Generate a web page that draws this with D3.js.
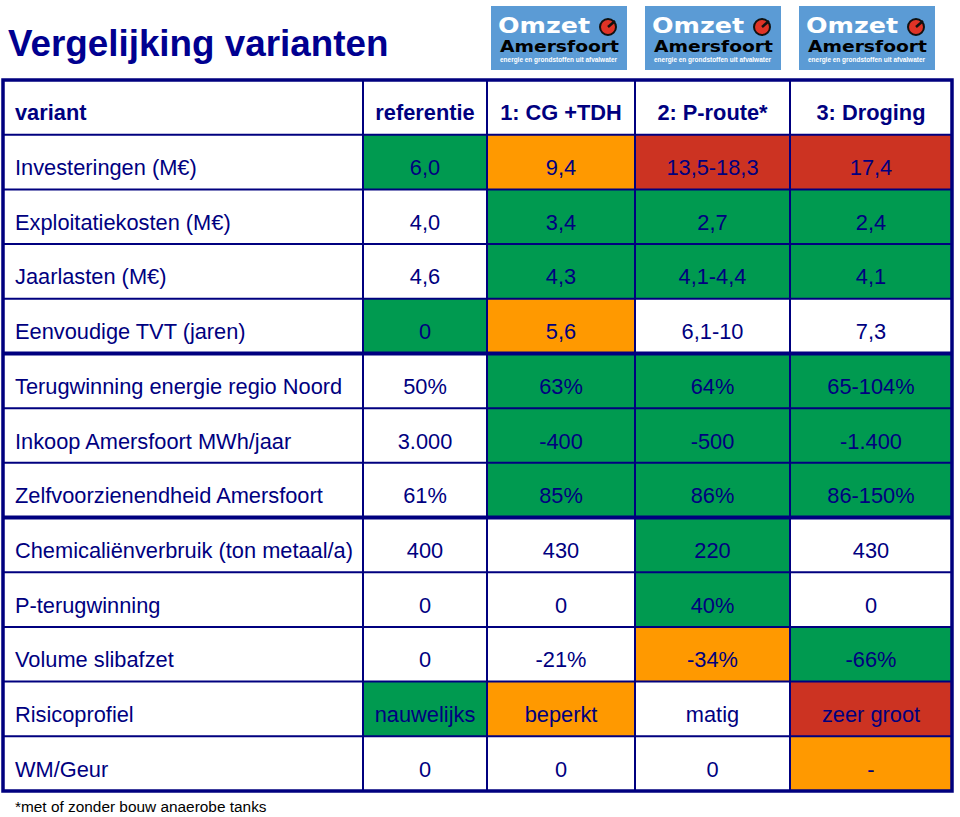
<!DOCTYPE html>
<html>
<head>
<meta charset="utf-8">
<script src="https://cdn.jsdelivr.net/npm/d3@7"></script>
<style>
    body { margin: 0; background: #fff; }
    svg { display: block; font-family: "Liberation Sans", Arial, sans-serif; }
</style>
</head>
<body>
<div id="chart"></div>
<script>
const title = "Vergelijking varianten";
const footnote = "*met of zonder bouw anaerobe tanks";
const headerLabel = "variant";
const columns = ["referentie", "1: CG +TDH", "2: P-route*", "3: Droging"];
const rowLabels = [
    "Investeringen (M€)",
    "Exploitatiekosten (M€)",
    "Jaarlasten (M€)",
    "Eenvoudige TVT (jaren)",
    "Terugwinning energie regio Noord",
    "Inkoop Amersfoort MWh/jaar",
    "Zelfvoorzienendheid Amersfoort",
    "Chemicaliënverbruik (ton metaal/a)",
    "P-terugwinning",
    "Volume slibafzet",
    "Risicoprofiel",
    "WM/Geur"
];
const values = [
    ["6,0", "9,4", "13,5-18,3", "17,4"],
    ["4,0", "3,4", "2,7", "2,4"],
    ["4,6", "4,3", "4,1-4,4", "4,1"],
    ["0", "5,6", "6,1-10", "7,3"],
    ["50%", "63%", "64%", "65-104%"],
    ["3.000", "-400", "-500", "-1.400"],
    ["61%", "85%", "86%", "86-150%"],
    ["400", "430", "220", "430"],
    ["0", "0", "40%", "0"],
    ["0", "-21%", "-34%", "-66%"],
    ["nauwelijks", "beperkt", "matig", "zeer groot"],
    ["0", "0", "0", "-"]
];
// g = gunstig, o = matig, r = ongunstig, w = neutraal
const ratings = [
    ["g", "o", "r", "r"],
    ["w", "g", "g", "g"],
    ["w", "g", "g", "g"],
    ["g", "o", "w", "w"],
    ["w", "g", "g", "g"],
    ["w", "g", "g", "g"],
    ["w", "g", "g", "g"],
    ["w", "w", "g", "w"],
    ["w", "w", "g", "w"],
    ["w", "w", "o", "g"],
    ["g", "o", "w", "r"],
    ["w", "w", "w", "o"]
];
// rows that start a new block (thick line above)
const groupStarts = ["Terugwinning energie regio Noord", "Chemicaliënverbruik (ton metaal/a)"];
const logoTexts = ["Omzet", "Amersfoort", "energie en grondstoffen uit afvalwater"];

const W = 960, H = 817;
const navy = "#00007f";
const fills = { g: "#009a50", o: "#ff9900", r: "#cc3322", w: "#ffffff" };
const colWidths = [360, 124, 148, 155, 162];
const tableLeft = 3, tableTop = 80, tableBottom = 791;
const fs = 21.8;

const colEdges = [tableLeft, ...d3.cumsum(colWidths).map(v => v + tableLeft)];
const colKeys = [headerLabel, ...columns];
const x = d3.scaleOrdinal().domain(colKeys).range(colEdges.slice(0, -1));
const cw = d3.scaleOrdinal().domain(colKeys).range(colWidths);
const y = d3.scaleBand()
    .domain([headerLabel, ...rowLabels])
    .range([tableTop, tableBottom]);
const tableRight = colEdges[colEdges.length - 1];

const svg = d3.select('#chart').append('svg')
    .attr('width', W)
    .attr('height', H);

svg.append('text')
    .attr('x', 8)
    .attr('y', 56)
    .attr('fill', '#000090')
    .attr('font-size', 36.8)
    .attr('font-weight', 'bold')
    .text(title);

// logos
const logo = svg.append('g').selectAll('g')
    .data(d3.range(3)).enter().append('g')
    .attr('transform', i => `translate(${491 + i * 154},6)`);
logo.append('rect')
    .attr('width', 136)
    .attr('height', 64)
    .attr('fill', '#5b9bd5');
logo.append('text')
    .attr('x', 7).attr('y', 27)
    .attr('fill', '#fff')
    .attr('font-family', '"DejaVu Sans", sans-serif')
    .attr('font-weight', 'bold')
    .attr('font-size', 22)
    .attr('textLength', 92)
    .attr('lengthAdjust', 'spacingAndGlyphs')
    .text(logoTexts[0]);
logo.append('circle')
    .attr('cx', 117).attr('cy', 21).attr('r', 8)
    .attr('fill', '#e03326')
    .attr('stroke', '#111')
    .attr('stroke-width', 2);
logo.append('path')
    .attr('d', 'M117,21 L124,15')
    .attr('stroke', '#111')
    .attr('stroke-width', 2.5);
logo.append('text')
    .attr('x', 9).attr('y', 46)
    .attr('fill', '#000')
    .attr('font-family', '"DejaVu Sans", sans-serif')
    .attr('font-weight', 'bold')
    .attr('font-size', 15.5)
    .attr('textLength', 119)
    .attr('lengthAdjust', 'spacingAndGlyphs')
    .text(logoTexts[1]);
logo.append('text')
    .attr('x', 9).attr('y', 56)
    .attr('fill', '#fff')
    .attr('font-weight', 'bold')
    .attr('font-size', 6.5)
    .attr('textLength', 117)
    .attr('lengthAdjust', 'spacingAndGlyphs')
    .text(logoTexts[2]);

// cells
const cells = rowLabels.flatMap((r, i) => columns.map((c, j) => ({
    row: r, col: c, value: values[i][j], rating: ratings[i][j]
})));

svg.append('g').selectAll('rect')
    .data(cells).enter().append('rect')
    .attr('x', d => x(d.col))
    .attr('y', d => y(d.row))
    .attr('width', d => cw(d.col))
    .attr('height', y.bandwidth())
    .attr('fill', d => fills[d.rating]);

// grid
const grid = svg.append('g').attr('stroke', navy);
grid.selectAll('.h')
    .data([...rowLabels]).enter().append('line')
    .attr('x1', tableLeft).attr('x2', tableRight)
    .attr('y1', d => y(d)).attr('y2', d => y(d))
    .attr('stroke-width', d => groupStarts.includes(d) ? 4 : 2);
grid.selectAll('.v')
    .data(colEdges.slice(1, -1)).enter().append('line')
    .attr('x1', d => d).attr('x2', d => d)
    .attr('y1', tableTop).attr('y2', tableBottom)
    .attr('stroke-width', 2);
grid.append('rect')
    .attr('x', tableLeft).attr('y', tableTop)
    .attr('width', tableRight - tableLeft)
    .attr('height', tableBottom - tableTop)
    .attr('fill', 'none')
    .attr('stroke-width', 3.5);

const baseline = d => y(d) + y.bandwidth() / 2 + 13;

// header row
svg.append('g').selectAll('text')
    .data(colKeys).enter().append('text')
    .attr('x', (d, i) => i === 0 ? 15 : x(d) + cw(d) / 2)
    .attr('y', baseline(headerLabel))
    .attr('text-anchor', (d, i) => i === 0 ? 'start' : 'middle')
    .attr('font-size', fs)
    .attr('font-weight', 'bold')
    .attr('fill', navy)
    .text(d => d);

// row labels
svg.append('g').selectAll('text')
    .data(rowLabels).enter().append('text')
    .attr('x', 15)
    .attr('y', d => baseline(d))
    .attr('font-size', fs)
    .attr('fill', navy)
    .text(d => d);

// values
svg.append('g').selectAll('text')
    .data(cells).enter().append('text')
    .attr('x', d => x(d.col) + cw(d.col) / 2)
    .attr('y', d => baseline(d.row))
    .attr('text-anchor', 'middle')
    .attr('font-size', fs)
    .attr('fill', navy)
    .text(d => d.value);

svg.append('text')
    .attr('x', 15)
    .attr('y', 812)
    .attr('font-size', 15.4)
    .attr('fill', '#000')
    .text(footnote);
</script>
</body>
</html>
